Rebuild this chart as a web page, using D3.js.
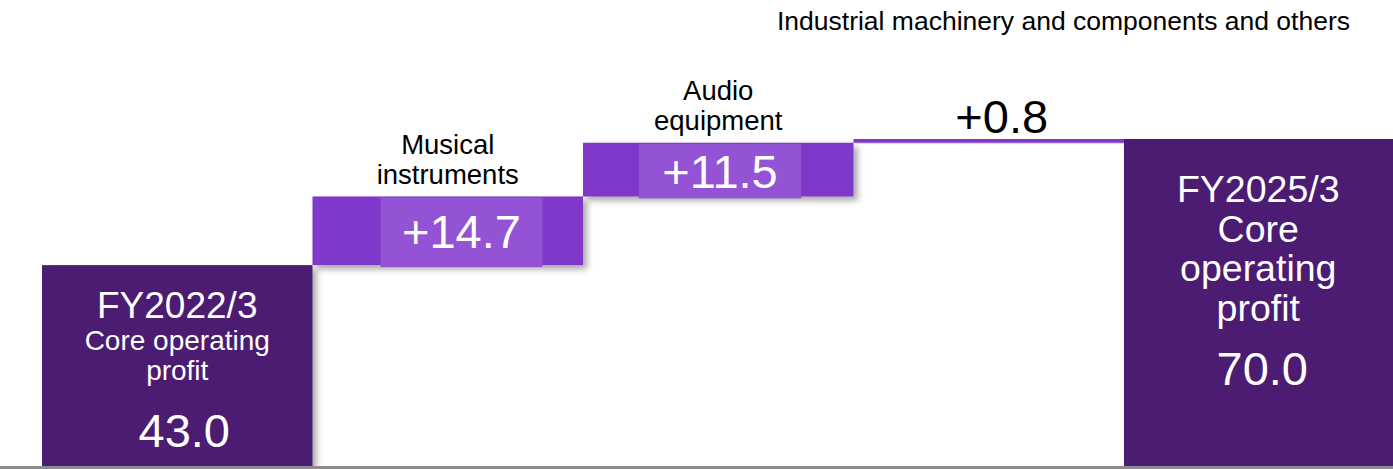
<!DOCTYPE html>
<html><head><meta charset="utf-8">
<script src="https://cdn.jsdelivr.net/npm/d3@7"></script>
<style>html,body{margin:0;padding:0;background:#fff;}svg{display:block;font-family:"Liberation Sans",Arial,sans-serif;}</style>
</head><body>
<script>
// ---- data ----
const categories = ["FY2022/3", "Musical instruments", "Audio equipment", "Industrial machinery and components and others", "FY2025/3"];
const kinds = ["total", "delta", "delta", "delta", "total"];
const values = [43.0, 14.7, 11.5, 0.8, 70.0];
const valueLabels = ["43.0", "+14.7", "+11.5", "+0.8", "70.0"];

const W = 1393, H = 469;
const svg = d3.select("body").append("svg").attr("width", W).attr("height", H);

const defs = svg.append("defs");
const f = defs.append("filter").attr("id", "sh").attr("x", "-10%").attr("y", "-10%").attr("width", "130%").attr("height", "140%");
f.append("feDropShadow").attr("dx", 4).attr("dy", 4).attr("stdDeviation", 3)
  .attr("flood-color", "#000").attr("flood-opacity", 0.35);

const x = d3.scaleBand().domain(categories).range([42, 42 + 5 * 270.5]).padding(0);
const y = d3.scaleLinear().domain([0, 70]).range([466, 139]);

// compute waterfall extents
let run = 0;
const bars = categories.map((c, i) => {
  let lo, hi;
  if (kinds[i] === "total") { lo = 0; hi = values[i]; run = values[i]; }
  else { lo = run; hi = run + values[i]; run = hi; }
  return { c, i, lo, hi, kind: kinds[i] };
});

const DARK = "#4b1f72", MID = "#7f37c9", LIGHT = "#9453d4";

const g = svg.append("g");
g.selectAll("rect.bar").data(bars).join("rect").attr("class", "bar")
  .attr("x", d => x(d.c)).attr("width", x.bandwidth())
  .attr("y", d => y(d.hi)).attr("height", d => y(d.lo) - y(d.hi))
  .attr("fill", d => d.kind === "total" ? DARK : MID)
  .attr("filter", "url(#sh)");

// inner label boxes for the two larger deltas
const boxOff = { 1: 68, 2: 56 };
const txtOff = { 1: 52, 2: 45 };
bars.filter(d => d.i === 1 || d.i === 2).forEach(d => {
  g.append("rect")
    .attr("x", x(d.c) + boxOff[d.i]).attr("width", 162)
    .attr("y", y(d.hi) + 1).attr("height", y(d.lo) - y(d.hi) + 1)
    .attr("fill", LIGHT);
  g.append("text")
    .attr("x", x(d.c) + boxOff[d.i] + 81).attr("y", y(d.hi) + txtOff[d.i])
    .attr("text-anchor", "middle").attr("fill", "#fff").attr("font-size", 47)
    .text(valueLabels[d.i]);
});

// baseline
svg.append("line").attr("x1", 0).attr("x2", W).attr("y1", 467.5).attr("y2", 467.5)
  .attr("stroke", "#8c8c8c").attr("stroke-width", 3);

// category labels above delta bars
function multiline(lines, cx, y0, dy, size, fill) {
  const t = svg.append("text").attr("text-anchor", "middle").attr("fill", fill).attr("font-size", size);
  lines.forEach((l, k) => t.append("tspan").attr("x", cx).attr("y", y0 + k * dy).text(l));
  return t;
}
const cx = i => x(categories[i]) + x.bandwidth() / 2;

multiline(["Musical", "instruments"], cx(1), 154, 30, 27.5, "#000");
multiline(["Audio", "equipment"], cx(2), 100, 30, 27.5, "#000");
svg.append("text").attr("x", 1350).attr("y", 30).attr("text-anchor", "end")
  .attr("font-size", 26.5).attr("fill", "#000").text(categories[3]);
svg.append("text").attr("x", cx(3) + 13).attr("y", 133).attr("text-anchor", "middle")
  .attr("font-size", 47).attr("fill", "#000").text(valueLabels[3]);

// total bar labels
svg.append("text").attr("x", cx(0)).attr("y", 318).attr("text-anchor", "middle")
  .attr("fill", "#fff").attr("font-size", 37).text(categories[0]);
multiline(["Core operating", "profit"], cx(0), 350, 30, 28, "#fff");
svg.append("text").attr("x", cx(0) + 7).attr("y", 447).attr("text-anchor", "middle")
  .attr("fill", "#fff").attr("font-size", 47).text(valueLabels[0]);

const cx4 = x(categories[4]) + x.bandwidth() / 2 - 1;
multiline([categories[4], "Core", "operating", "profit"], cx4, 202, 39.5, 37.5, "#fff");
svg.append("text").attr("x", cx4 + 4).attr("y", 385).attr("text-anchor", "middle")
  .attr("fill", "#fff").attr("font-size", 47).text(valueLabels[4]);
</script>
</body></html>
